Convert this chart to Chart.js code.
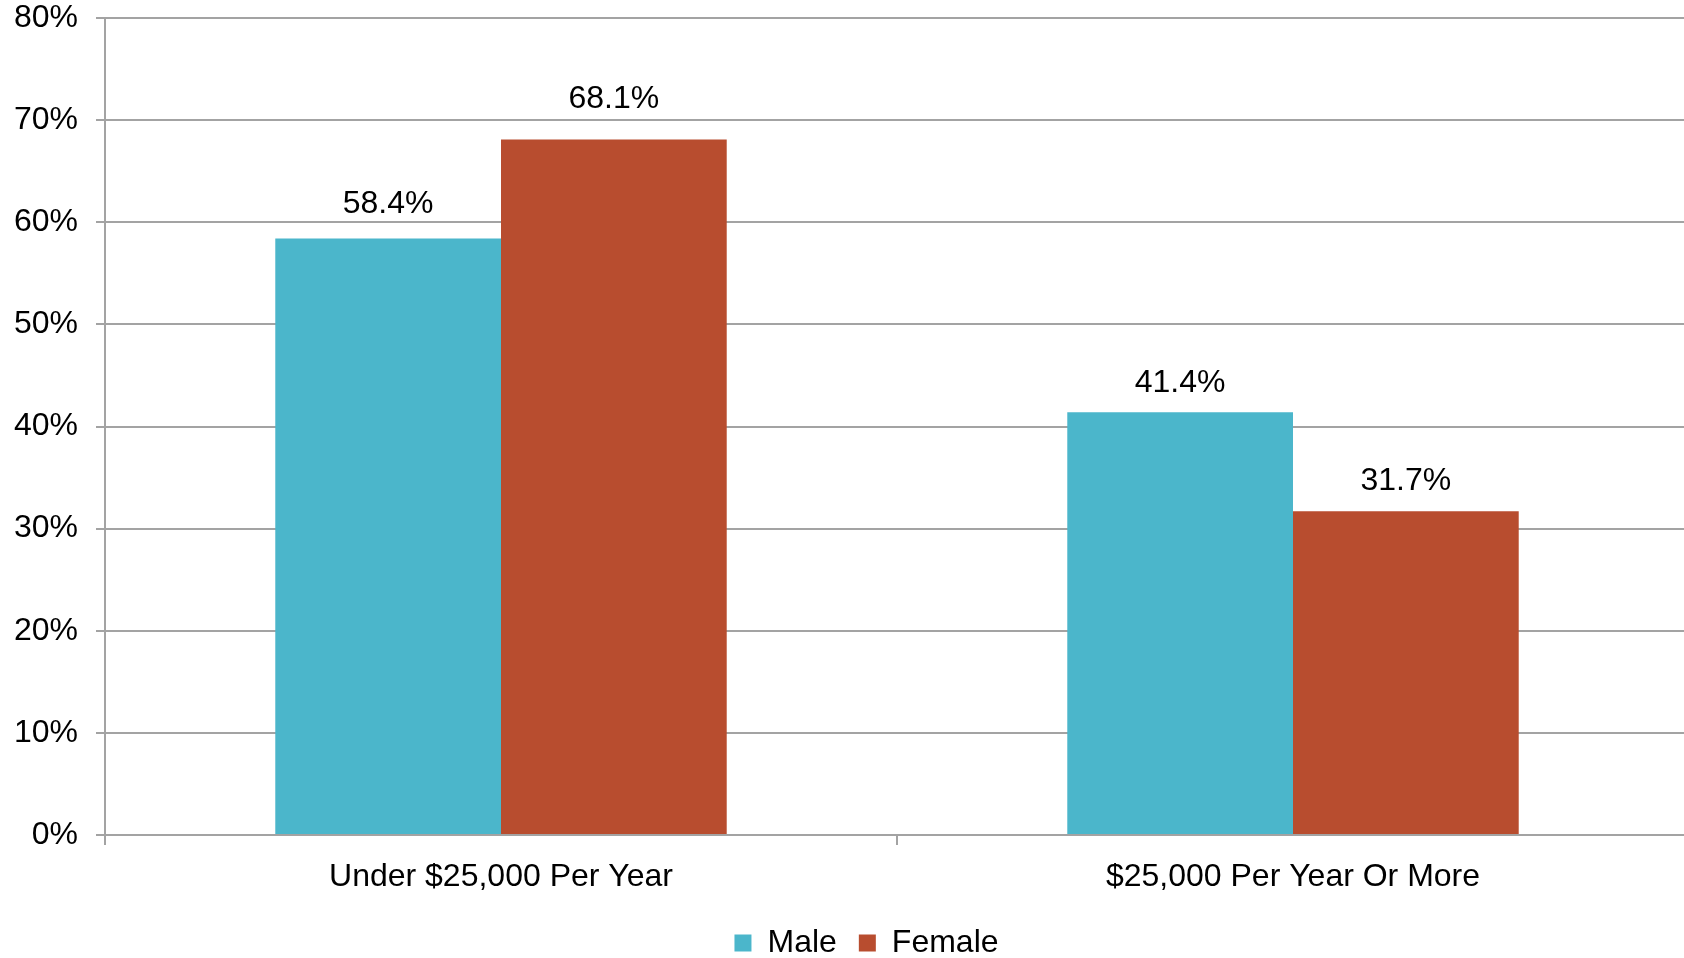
<!DOCTYPE html>
<html>
<head>
<meta charset="utf-8">
<script src="https://cdn.jsdelivr.net/npm/chart.js@4/dist/chart.umd.min.js"></script>
<style>
  html, body { margin: 0; padding: 0; background: #ffffff; overflow: hidden; }
  #wrap { width: 1689px; height: 958px; position: relative; }
</style>
</head>
<body>
<div id="wrap"><canvas id="c"></canvas></div>
<script>
const categories = ["Under $25,000 Per Year", "$25,000 Per Year Or More"];
const seriesNames = ["Male", "Female"];
const maleValues = [58.4, 41.4];
const femaleValues = [68.1, 31.7];
const yTickValues = [0, 10, 20, 30, 40, 50, 60, 70, 80];

const FONT = '"Liberation Sans", Arial, Helvetica, sans-serif';
const FS = 32;
const GRID = '#a3a3a3';
// gap (px) between bar top and label baseline, per dataset / category (styling only)
const LABEL_GAP = [[26, 20], [32, 21]];

const valueLabels = {
  id: 'valueLabels',
  afterDatasetsDraw(chart) {
    const ctx = chart.ctx;
    ctx.save();
    ctx.font = FS + 'px ' + FONT;
    ctx.fillStyle = '#000000';
    ctx.textAlign = 'center';
    ctx.textBaseline = 'alphabetic';
    chart.data.datasets.forEach((ds, di) => {
      const meta = chart.getDatasetMeta(di);
      meta.data.forEach((bar, i) => {
        ctx.fillText(ds.data[i].toFixed(1) + '%', bar.x, bar.y - LABEL_GAP[di][i]);
      });
    });
    ctx.restore();
  }
};

const legendShift = {
  id: 'legendShift',
  afterLayout(chart) {
    if (chart.legend) { chart.legend.left += 22; chart.legend.right += 22; }
  }
};

new Chart(document.getElementById('c'), {
  type: 'bar',
  data: {
    labels: categories,
    datasets: [
      { label: seriesNames[0], data: maleValues, backgroundColor: '#4bb6cb', borderWidth: 0 },
      { label: seriesNames[1], data: femaleValues, backgroundColor: '#b84d2f', borderWidth: 0 }
    ]
  },
  options: {
    responsive: true,
    maintainAspectRatio: false,
    animation: false,
    layout: { padding: { top: 18, left: 0, right: 0, bottom: -11 } },
    datasets: { bar: { categoryPercentage: 0.57, barPercentage: 1.0 } },
    plugins: {
      tooltip: { enabled: false },
      legend: {
        position: 'bottom',
        labels: {
          boxWidth: 17, boxHeight: 17, padding: 22,
          color: '#000000',
          font: { family: FONT, size: FS }
        }
      }
    },
    scales: {
      x: {
        afterFit(scale) { scale.height = 70; },
        grid: { display: true, drawOnChartArea: false, drawTicks: true, tickLength: 10, color: GRID, lineWidth: 2, offset: true },
        border: { display: true, color: GRID, width: 2 },
        ticks: { color: '#000000', font: { family: FONT, size: FS }, padding: 13, maxRotation: 0 }
      },
      y: {
        min: 0, max: 80,
        afterFit(scale) { scale.width = 105; scale.paddingTop = 0; scale.paddingBottom = 0; },
        afterBuildTicks(scale) { scale.ticks = yTickValues.map(v => ({ value: v })); },
        grid: { color: GRID, lineWidth: 2, drawTicks: true, tickLength: 9 },
        border: { display: true, color: GRID, width: 2 },
        ticks: {
          color: '#000000', font: { family: FONT, size: FS }, padding: 18,
          callback: v => v + '%'
        }
      }
    }
  },
  plugins: [valueLabels, legendShift]
});
</script>
</body>
</html>
